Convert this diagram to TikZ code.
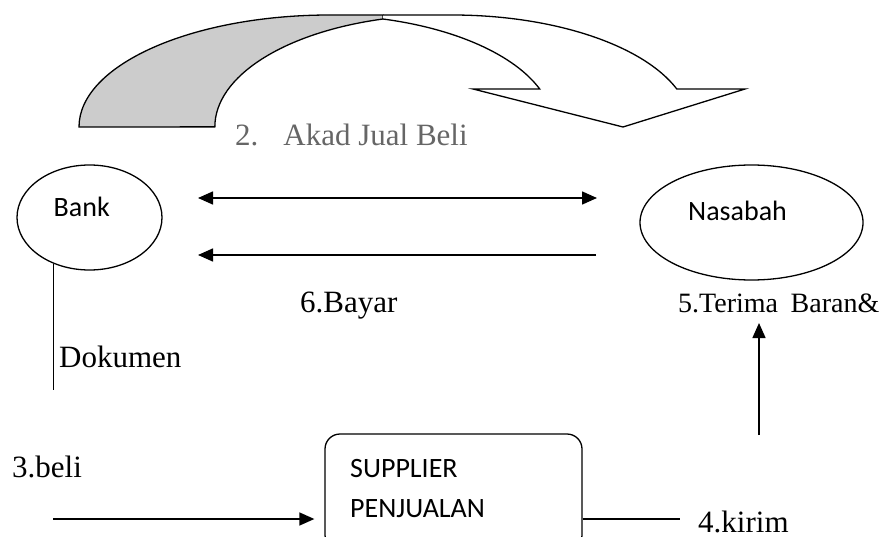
\documentclass[tikz,border=0pt]{standalone}
\usepackage{fontspec}
\setmainfont{Liberation Serif}
\newfontfamily\calfont{Carlito}
\usetikzlibrary{shapes.geometric,arrows.meta}
\begin{document}
\begin{tikzpicture}[x=1pt,y=1pt,
  ln/.style={line width=1.5pt},
  arr/.style={ln,-{Triangle[length=15pt,width=13pt]}},
  dblarr/.style={ln,{Triangle[length=15pt,width=13pt]}-{Triangle[length=15pt,width=13pt]}},
  ell/.style={draw,ellipse,line width=1.3pt,inner sep=0pt},
  shapeln/.style={line width=1.3pt,line join=miter},
  tnr/.style={font=\fontsize{31}{37}\selectfont,inner sep=0pt,anchor=base west},
  cal/.style={font=\calfont\fontsize{28}{34}\selectfont,inner sep=0pt,anchor=base west},
]
\useasboundingbox (0,0) rectangle (882,-537);

% curved arrow: back (grey) face
\draw[shapeln, fill=black!20] (79,-127)
  arc[start angle=180,end angle=90,x radius=251,y radius=112]
  -- (383,-15) -- (383,-19)
  arc[start angle=105.6,end angle=180,x radius=230,y radius=112] -- cycle;
% curved arrow: front (white) face
\filldraw[shapeln, fill=white] (383,-15) -- (452,-15)
  arc[start angle=90,end angle=19.8,x radius=239,y radius=112]
  -- (745,-89) -- (623,-127) -- (473,-89) -- (539.7,-89)
  arc[start angle=19.83,end angle=74.6,x radius=232,y radius=112];

\node[tnr, text=black!60] (akad) at (235,-146) {2.\hspace{25pt}Akad Jual Beli};

% actors
\node[ell, minimum width=145pt, minimum height=105pt] (bank) at (89.5,-217.5) {};
\node[cal] (banktxt) at (53.5,-217) {Bank};
\node[ell, minimum width=223pt, minimum height=115pt] (nasabah) at (751.5,-222.5) {};
\node[cal] (nastxt) at (688,-220) {Nasabah};

\node[draw, rounded corners=15pt, line width=1.3pt, minimum width=257pt, minimum height=116pt, inner sep=0pt] (sup) at (453.5,-492) {};
\node[cal] (suptxt1) at (350,-477) {SUPPLIER};
\node[cal] (suptxt2) at (350,-517) {PENJUALAN};

% labels
\node[tnr] (bayar) at (300,-312) {6.Bayar};
\node[tnr, font=\fontsize{28}{34}\selectfont] (terima) at (678,-312) {5.Terima\hspace{0.45em}Baran\&};
\node[tnr] (dok) at (59,-367) {Dokumen};
\node[tnr] (beli) at (12,-477) {3.beli};
\node[tnr] (kirim) at (698,-532) {4.kirim};

% connectors
\coordinate (a1) at (198,-198);
\coordinate (a2) at (597,-198);
\draw[dblarr] (a1) -- (a2);
\coordinate (c1) at (596,-255);
\coordinate (c2) at (198,-255);
\draw[arr] (c1) -- (c2);

\coordinate (d0) at (54,-390);
\draw[ln] (bank.-128) -- (bank.-128 |- d0);

\coordinate (b0) at (53,-519);
\draw[arr, shorten >=10pt] (b0) -- (b0 -| sup.west);

\coordinate (k1) at (680,-519);
\draw[ln] (k1 -| sup.east) -- (k1);

\coordinate (v0) at (759,-435);
\coordinate (v1) at (759,-323);
\draw[arr] (v0) -- (v1);
\end{tikzpicture}
\end{document}
